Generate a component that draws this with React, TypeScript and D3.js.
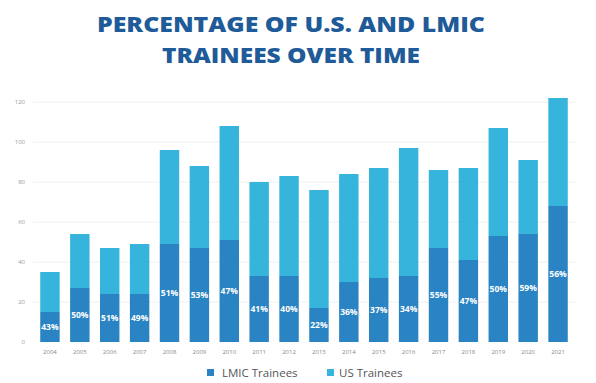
import React from "react";
import * as d3 from "d3";

const years = ["2004","2005","2006","2007","2008","2009","2010","2011","2012","2013","2014","2015","2016","2017","2018","2019","2020","2021"];
const totals = [35, 54, 47, 49, 96, 88, 108, 80, 83, 76, 84, 87, 97, 86, 87, 107, 91, 122];
const lmic = [15, 27, 24, 24, 49, 47, 51, 33, 33, 17, 30, 32, 33, 47, 41, 53, 54, 68];
const pctLabels = ["43%","50%","51%","49%","51%","53%","47%","41%","40%","22%","36%","37%","34%","55%","47%","50%","59%","56%"];
const yTicks = [0, 20, 40, 60, 80, 100, 120];
const seriesNames = ["LMIC Trainees", "US Trainees"];

const W = 596, H = 383;
const LMIC_COLOR = "#2a84c3";
const US_COLOR = "#37b4dc";

export default function App() {
  const x = d3.scaleBand<string>().domain(years).range([35, 573]).paddingInner(0.35).paddingOuter(0.175);
  const y = d3.scaleLinear().domain([0, 120]).range([342, 102]);
  const rows = years.map((yr, i) => ({ yr, lmic: lmic[i], us: totals[i] - lmic[i], pct: pctLabels[i] }));
  const stack = d3.stack<any>().keys(["lmic", "us"])(rows);
  const colors = [LMIC_COLOR, US_COLOR];

  return (
    <svg width={W} height={H} style={{ position: "absolute", left: 0, top: 0, background: "#fff" }}>
      <text x={291} y={32} textAnchor="middle" fontFamily="'Open Sans', sans-serif" fontWeight={800} fontSize={21} fill="#1f5b98" textLength={388} lengthAdjust="spacingAndGlyphs">PERCENTAGE OF U.S. AND LMIC</text>
      <text x={291} y={63} textAnchor="middle" fontFamily="'Open Sans', sans-serif" fontWeight={800} fontSize={21} fill="#1f5b98" textLength={258} lengthAdjust="spacingAndGlyphs">TRAINEES OVER TIME</text>
      {yTicks.map(t => (
        <g key={t}>
          {t > 0 && <line x1={33} x2={575} y1={y(t)} y2={y(t)} stroke="#f0f0f0" strokeWidth={1} />}
          <text x={25} y={y(t) + 2} textAnchor="end" fontFamily="'Open Sans', sans-serif" fontSize={6} fill="#999">{t}</text>
        </g>
      ))}
      {stack.map((s, si) => (
        <g key={si} fill={colors[si]}>
          {s.map((d: any, i: number) => (
            <rect key={i} x={x(years[i])} width={x.bandwidth()} y={y(d[1])} height={y(d[0]) - y(d[1])} />
          ))}
        </g>
      ))}
      {rows.map((r, i) => (
        <text key={r.yr} x={(x(r.yr) as number) + x.bandwidth() / 2} y={y(r.lmic / 2) + 3} textAnchor="middle" fontFamily="'Open Sans', sans-serif" fontWeight={700} fontSize={8.5} fill="#fff">{r.pct}</text>
      ))}
      {years.map(yr => (
        <text key={yr} x={(x(yr) as number) + x.bandwidth() / 2} y={354} textAnchor="middle" fontFamily="'Open Sans', sans-serif" fontSize={6} fill="#888">{yr}</text>
      ))}
      <g fontFamily="'Open Sans', sans-serif" fontSize={11.5} fill="#555">
        <rect x={207} y={369} width={7} height={7} fill={LMIC_COLOR} />
        <text x={222} y={377}>{seriesNames[0]}</text>
        <rect x={327} y={369} width={7} height={7} fill={US_COLOR} />
        <text x={339} y={377}>{seriesNames[1]}</text>
      </g>
    </svg>
  );
}
